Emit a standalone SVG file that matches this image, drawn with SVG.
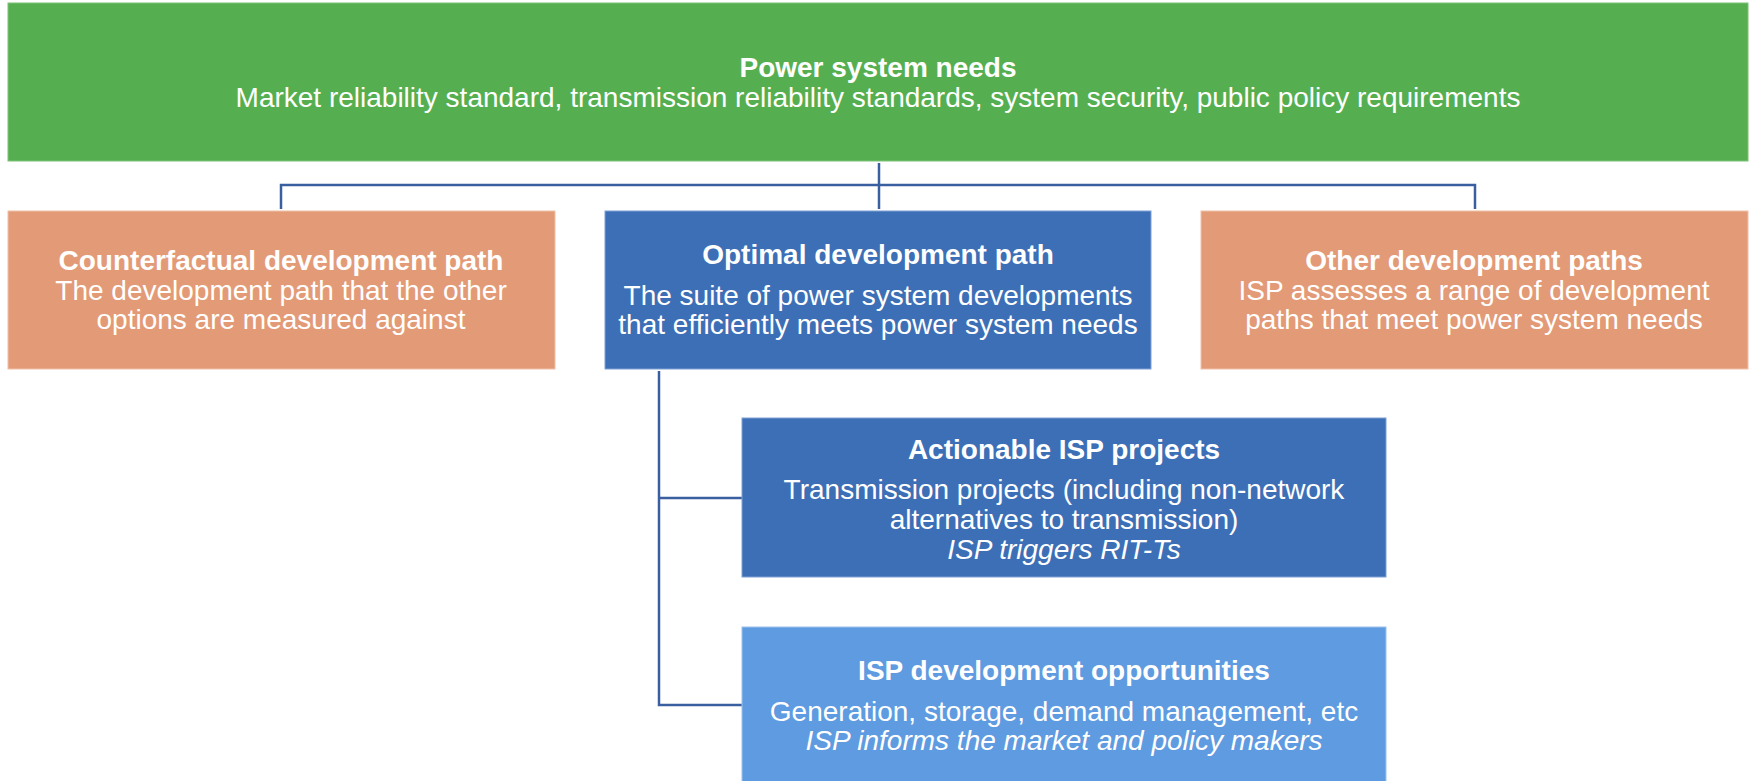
<svg xmlns="http://www.w3.org/2000/svg" width="1750" height="781" viewBox="0 0 1750 781">
<style>
text{font-family:"Liberation Sans",Arial,sans-serif;fill:#ffffff;font-size:28px;text-anchor:middle}
.b{font-weight:bold}
.i{font-style:italic}
.con{stroke:#3A5FA0;stroke-width:2.5;fill:none}
.g{fill:#55AF51;stroke:#7DC279;stroke-width:1}
.o{fill:#E39A77;stroke:#F0C0AA;stroke-width:1}
.d{fill:#3D6FB6;stroke:#7FA2D4;stroke-width:1}
.l{fill:#5F9BE0;stroke:#9DC1EC;stroke-width:1}
</style>
<rect width="1750" height="781" fill="#ffffff"/>
<g id="connectors">
<path class="con" d="M879 163 V209 M281 209 V185 H1475 V209"/>
<path class="con" d="M659 371 V705 H742 M659 498 H742"/>
</g>
<g id="power-system-needs">
<rect class="g" x="8" y="3" width="1740" height="158"/>
<text class="b" x="878" y="77">Power system needs</text>
<text x="878" y="107">Market reliability standard, transmission reliability standards, system security, public policy requirements</text>
</g>
<g id="counterfactual">
<rect class="o" x="8" y="211" width="547" height="158"/>
<text class="b" x="281" y="270">Counterfactual development path</text>
<text x="281" y="300">The development path that the other</text>
<text x="281" y="329">options are measured against</text>
</g>
<g id="optimal">
<rect class="d" x="605" y="211" width="546" height="158"/>
<text class="b" x="878" y="264">Optimal development path</text>
<text x="878" y="305">The suite of power system developments</text>
<text x="878" y="334">that efficiently meets power system needs</text>
</g>
<g id="other">
<rect class="o" x="1201" y="211" width="547" height="158"/>
<text class="b" x="1474" y="270">Other development paths</text>
<text x="1474" y="300">ISP assesses a range of development</text>
<text x="1474" y="329">paths that meet power system needs</text>
</g>
<g id="actionable">
<rect class="d" x="742" y="418" width="644" height="159"/>
<text class="b" x="1064" y="459">Actionable ISP projects</text>
<text x="1064" y="499">Transmission projects (including non-network</text>
<text x="1064" y="529">alternatives to transmission)</text>
<text class="i" x="1064" y="559">ISP triggers RIT-Ts</text>
</g>
<g id="development-opportunities">
<rect class="l" x="742" y="627" width="644" height="160"/>
<text class="b" x="1064" y="680">ISP development opportunities</text>
<text x="1064" y="721">Generation, storage, demand management, etc</text>
<text class="i" x="1064" y="750">ISP informs the market and policy makers</text>
</g>
</svg>
